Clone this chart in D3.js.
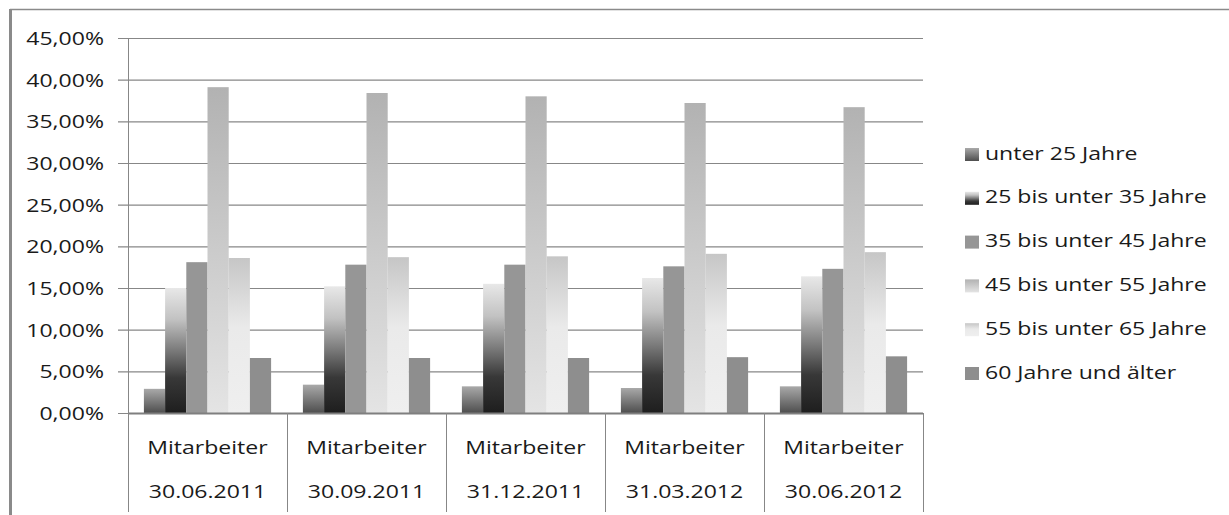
<!DOCTYPE html>
<html>
<head>
<meta charset="utf-8">
<script src="https://cdn.jsdelivr.net/npm/d3@7"></script>
<style>
  body { margin: 0; background: #fff; }
  text { font-family: "Open Sans", "Noto Sans", sans-serif; font-size: 18px; fill: #1a1a1a; }
</style>
</head>
<body>
<svg width="1229" height="515"></svg>
<script>
// data
const categories = ["30.06.2011", "30.09.2011", "31.12.2011", "31.03.2012", "30.06.2012"]
const seriesNames = ["unter 25 Jahre", "25 bis unter 35 Jahre", "35 bis unter 45 Jahre",
                     "45 bis unter 55 Jahre", "55 bis unter 65 Jahre", "60 Jahre und älter"]
const unter25  = [0.029, 0.034, 0.032, 0.030, 0.032]
const bis35    = [0.150, 0.152, 0.155, 0.162, 0.164]
const bis45    = [0.181, 0.178, 0.178, 0.176, 0.173]
const bis55    = [0.391, 0.384, 0.380, 0.372, 0.367]
const bis65    = [0.186, 0.187, 0.188, 0.191, 0.193]
const ab60     = [0.066, 0.066, 0.066, 0.067, 0.068]
const seriesValues = [unter25, bis35, bis45, bis55, bis65, ab60]
const yTicks = [0, 0.05, 0.10, 0.15, 0.20, 0.25, 0.30, 0.35, 0.40, 0.45]

const svg = d3.select("svg")
const stretch = 1.28   // text in the picture is drawn wide
const plotLeft = 128, plotRight = 923, plotTop = 38, plotBottom = 413

// gradients like the office fills
const fills = [
  [["0", "#a9a9a9"], ["1", "#4e4e4e"]],
  [["0", "#e8e8e8"], ["0.25", "#c2c2c2"], ["0.5", "#7a7a7a"], ["0.72", "#383838"], ["1", "#1e1e1e"]],
  [["0", "#969696"], ["1", "#969696"]],
  [["0", "#b2b2b2"], ["1", "#e4e4e4"]],
  [["0", "#c6c6c6"], ["0.45", "#eaeaea"], ["1", "#efefef"]],
  [["0", "#8e8e8e"], ["1", "#8e8e8e"]]
]
let defs = svg.append("defs")
fills.forEach((stops, i) => {
  let g = defs.append("linearGradient").attr("id", "g" + i)
    .attr("x1", 0).attr("y1", 0).attr("x2", 0).attr("y2", 1)
  stops.forEach(s => g.append("stop").attr("offset", s[0]).attr("stop-color", s[1]))
})

// outer frame (top and left edge visible)
svg.append("line").attr("x1", 10).attr("x2", 1229).attr("y1", 9.5).attr("y2", 9.5)
  .attr("stroke", "#8a8a8a").attr("stroke-width", 1.5)
svg.append("line").attr("x1", 10.5).attr("x2", 10.5).attr("y1", 9).attr("y2", 515)
  .attr("stroke", "#8a8a8a").attr("stroke-width", 3)

let y = d3.scaleLinear().domain([0, 0.45]).range([plotBottom, plotTop])
let x0 = d3.scaleBand().domain(categories).range([plotLeft, plotRight])
let x1 = d3.scaleBand().domain(d3.range(seriesNames.length))
  .range([0, x0.bandwidth()]).paddingInner(0).paddingOuter(0.75)

let de = d3.formatLocale({decimal: ",", thousands: ".", grouping: [3], currency: ["", " €"]})

// gridlines + y labels
let yAxis = svg.append("g").attr("transform", "translate(118,0)")
  .call(d3.axisLeft(y).tickValues(yTicks).tickSize(-(plotRight - 118)).tickPadding(11)
    .tickFormat(de.format(".2%")))
yAxis.select(".domain").remove()
yAxis.selectAll(".tick line").attr("stroke", "#878787").attr("stroke-width", 1.2)
yAxis.selectAll(".tick text").attr("transform", `scale(${stretch},1)`)
  .style("font-family", "'Open Sans', sans-serif").style("font-size", "18px").attr("fill", "#1a1a1a")
  .attr("dy", "0.36em")

// bars
let groups = svg.append("g").selectAll("g").data(categories).enter().append("g")
  .attr("transform", d => `translate(${x0(d)},0)`)
groups.selectAll("rect")
  .data((d, ci) => seriesValues.map((vals, si) => ({si: si, v: vals[ci]})))
  .enter().append("rect")
  .attr("x", d => x1(d.si))
  .attr("width", x1.bandwidth())
  .attr("y", d => y(d.v))
  .attr("height", d => y(0) - y(d.v))
  .attr("fill", d => `url(#g${d.si})`)

// axis lines and category dividers
svg.append("line").attr("x1", plotLeft).attr("x2", plotRight).attr("y1", plotBottom + 0.5).attr("y2", plotBottom + 0.5)
  .attr("stroke", "#7f7f7f").attr("stroke-width", 2)
svg.append("line").attr("x1", plotLeft + 0.5).attr("x2", plotLeft + 0.5).attr("y1", plotTop).attr("y2", 512)
  .attr("stroke", "#878787").attr("stroke-width", 1)
svg.selectAll(".divider").data(categories.slice(1).concat(["end"])).enter().append("line")
  .attr("class", "divider")
  .attr("x1", d => d === "end" ? plotRight + 0.5 : x0(d) + 0.5)
  .attr("x2", d => d === "end" ? plotRight + 0.5 : x0(d) + 0.5)
  .attr("y1", plotBottom).attr("y2", 512)
  .attr("stroke", "#878787").attr("stroke-width", 1)

// category labels
let labs = svg.append("g").selectAll("g").data(categories).enter().append("g")
  .attr("transform", d => `translate(${x0(d) + x0.bandwidth() / 2},0) scale(${stretch},1)`)
labs.append("text").attr("text-anchor", "middle").attr("y", 454).text("Mitarbeiter")
labs.append("text").attr("text-anchor", "middle").attr("y", 498).text(d => d)

// legend
let legend = svg.append("g").selectAll("g").data(seriesNames).enter().append("g")
  .attr("transform", (d, i) => `translate(965,${153 + i * 43.8})`)
legend.append("rect").attr("x", 0).attr("y", -5).attr("width", 14).attr("height", 13)
  .attr("fill", (d, i) => `url(#g${i})`)
legend.append("text").attr("transform", `translate(20,0) scale(${stretch},1)`)
  .attr("y", 6.5).text(d => d)
</script>
</body>
</html>
